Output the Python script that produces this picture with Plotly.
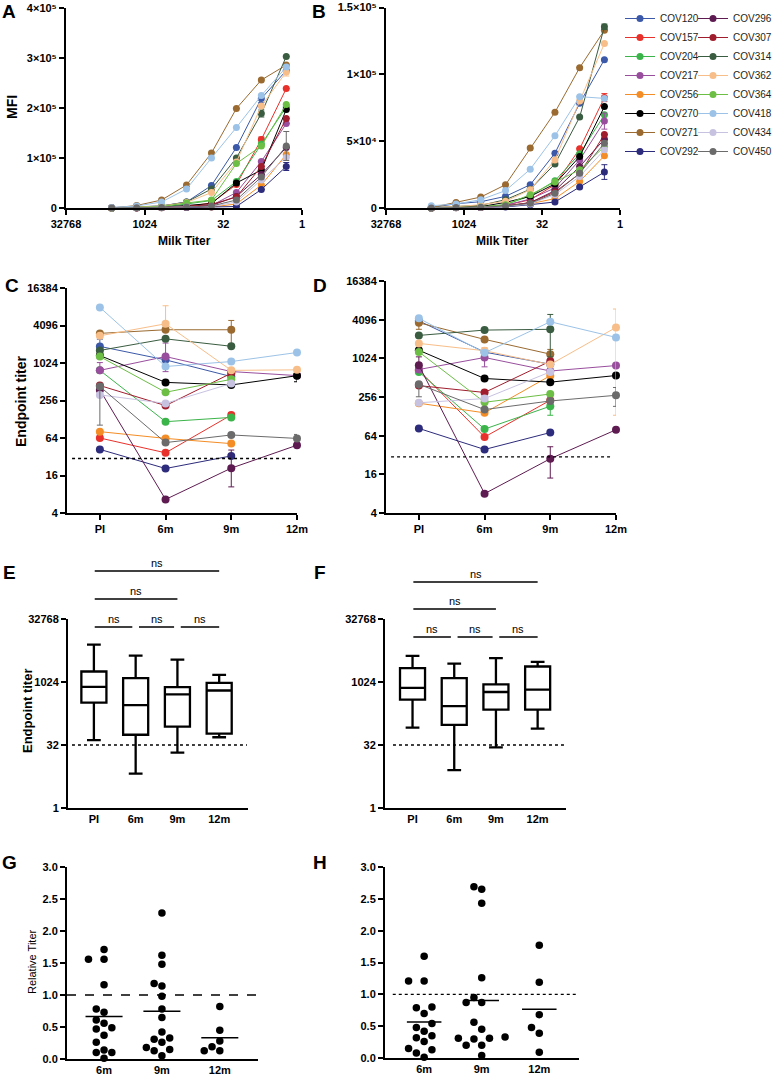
import numpy as np
import plotly.graph_objects as go

W, H = 775, 1079
FONT = "Liberation Sans, Arial, Helvetica, DejaVu Sans, sans-serif"

# ---------------- data ----------------
donors = ["COV120", "COV157", "COV204", "COV217", "COV256", "COV270", "COV271", "COV292",
          "COV296", "COV307", "COV314", "COV362", "COV364", "COV418", "COV434", "COV450"]
colors = ["#3B59A8", "#E8312B", "#3BB44A", "#984E9D", "#F48D25", "#000000", "#9A6A30", "#2D2B7B",
          "#5E1B51", "#9F1D2D", "#3A5C40", "#F8BE89", "#6CBE45", "#9CC3E7", "#C8C2E1", "#6B6B6B"]

dilutions = [4374, 1458, 486, 162, 54, 18, 6, 2]

mfi_A = {
    "COV120": [1000, 3000, 4000, 12000, 45000, 121000, 219000, 275000],
    "COV157": [0, 500, 1000, 3000, 10000, 47000, 137000, 239000],
    "COV204": [0, 1000, 2000, 8000, 15000, 53000, 128000, 202000],
    "COV217": [0, 500, 1000, 2000, 5000, 31000, 93000, 169000],
    "COV256": [0, 0, 500, 1000, 2000, 8000, 46000, 107000],
    "COV270": [0, 1000, 2000, 5000, 9000, 50000, 76000, 197000],
    "COV271": [0, 5000, 16000, 46000, 110000, 199000, 256000, 286000],
    "COV292": [0, 0, 500, 1000, 2000, 3000, 37000, 83000],
    "COV296": [0, 500, 1000, 2000, 5000, 23000, 67000, 121000],
    "COV307": [0, 500, 1000, 3000, 7000, 22000, 83000, 179000],
    "COV314": [0, 2000, 4000, 12000, 38000, 100000, 189000, 303000],
    "COV362": [0, 2000, 4000, 11000, 31000, 92000, 204000, 272000],
    "COV364": [0, 1000, 3000, 10000, 16000, 89000, 124000, 207000],
    "COV418": [1000, 4000, 12000, 38000, 100000, 161000, 225000, 282000],
    "COV434": [0, 500, 1000, 2000, 3000, 12000, 56000, 101000],
    "COV450": [0, 500, 1000, 2000, 4000, 16000, 62000, 124000],
}
err_A = {"COV450": {7: 29000}, "COV292": {7: 8000}, "COV314": {6: 7000},
         "COV120": {6: 8000}, "COV157": {6: 5000}, "COV362": {7: 8000}}

mfi_B = {
    "COV120": [300, 3200, 4700, 8700, 17400, 41000, 78400, 111000],
    "COV157": [0, 300, 800, 2000, 6200, 17400, 44300, 82600],
    "COV204": [0, 300, 800, 2500, 9000, 20400, 40500, 69700],
    "COV217": [0, 300, 600, 2000, 6700, 15000, 36000, 65000],
    "COV256": [0, 200, 500, 1200, 3200, 7000, 19900, 39000],
    "COV270": [0, 500, 1000, 4200, 8700, 18000, 38500, 75900],
    "COV271": [300, 4200, 8200, 17400, 44800, 71600, 105000, 133000],
    "COV292": [0, 100, 300, 800, 2500, 4500, 15700, 26900],
    "COV296": [0, 300, 600, 1500, 4000, 13000, 31000, 51500],
    "COV307": [0, 300, 600, 1500, 4000, 12000, 25600, 55000],
    "COV314": [300, 1000, 2000, 6200, 14000, 33000, 68000, 135600],
    "COV362": [300, 1000, 2500, 5000, 13700, 36000, 80000, 123000],
    "COV364": [0, 300, 800, 2500, 10000, 19400, 28600, 46000],
    "COV418": [1700, 3000, 6200, 13000, 29000, 54000, 83300, 82000],
    "COV434": [0, 200, 500, 1200, 3000, 10000, 23600, 43500],
    "COV450": [0, 300, 600, 1500, 3500, 11000, 26000, 48500],
}
err_B = {"COV292": {7: 5500}, "COV217": {7: 6000}, "COV364": {7: 4000},
         "COV157": {7: 3000}, "COV314": {7: 2000}}

timepoints = ["PI", "6m", "9m", "12m"]

titer_C = {
    "COV120": [1890, 1150, 620, None],
    "COV157": [64, 37, 150, None],
    "COV204": [780, 117, 137, None],
    "COV217": [780, 1300, 746, 643],
    "COV256": [81, 63, 52, None],
    "COV270": [1350, 500, 455, 640],
    "COV271": [3060, 3500, 3500, None],
    "COV292": [42, 20.7, 33, None],
    "COV296": [378, 6.6, 21, 49],
    "COV307": [445, 212, 700, None],
    "COV314": [1630, 2500, 1900, None],
    "COV362": [2800, 4360, 780, 795],
    "COV364": [1300, 347, 560, None],
    "COV418": [8000, 900, 1080, 1510],
    "COV434": [315, 230, 480, None],
    "COV450": [430, 54, 71.6, 63],
}
# (upper, lower) error bars
err_C = {("COV450", 0): (40, 327), ("COV362", 1): (4140, 0), ("COV271", 2): (1440, 1450),
         ("COV296", 2): (20, 10.5), ("COV217", 1): (840, 556), ("COV120", 0): (580, 0),
         ("COV217", 0): (260, 0), ("COV270", 3): (0, 128), ("COV450", 3): (10, 0),
         ("COV157", 2): (13, 0)}

titer_D = {
    "COV120": [3930, 1280, 830, None],
    "COV157": [670, 61, 228, None],
    "COV204": [630, 81, 184, None],
    "COV217": [686, 1055, 650, 790],
    "COV256": [205, 145, 550, None],
    "COV270": [1370, 497, 436, 553],
    "COV271": [3660, 2020, 1190, None],
    "COV292": [83, 39, 71.5, None],
    "COV296": [800, 8, 28, 79],
    "COV307": [385, 301, 925, None],
    "COV314": [2330, 2820, 2900, None],
    "COV362": [1750, 1345, 820, 3100],
    "COV364": [1290, 212, 285, None],
    "COV418": [4300, 1250, 3800, 2170],
    "COV434": [208, 242, 630, None],
    "COV450": [404, 163, 222, 272],
}
err_D = {("COV271", 0): (880, 760), ("COV296", 0): (280, 0), ("COV450", 0): (0, 146),
         ("COV217", 1): (0, 300), ("COV362", 1): (165, 0), ("COV314", 2): (2040, 1820),
         ("COV271", 2): (220, 173), ("COV296", 2): (15, 14), ("COV204", 2): (0, 51),
         ("COV362", 3): (2900, 2967), ("COV450", 3): (88, 89)}

rel_categories = ["6m", "9m", "12m"]
rel_G = [
    [1.71, 1.56, 1.56, 1.16, 0.78, 0.73, 0.61, 0.49, 0.47, 0.56, 0.37, 0.26, 0.14, 0.10, 0.10, 0.01],
    [2.28, 1.62, 1.48, 1.18, 1.14, 0.98, 0.78, 0.65, 0.42, 0.31, 0.33, 0.26, 0.18, 0.15, 0.13, 0.05],
    [0.82, 0.45, 0.28, 0.13, 0.19, 0.13],
]
rel_H = [
    [1.60, 1.21, 1.21, 0.80, 0.79, 0.70, 0.54, 0.48, 0.42, 0.32, 0.35, 0.26, 0.15, 0.13, 0.08, 0.01],
    [2.69, 2.65, 2.43, 1.26, 0.95, 0.87, 0.87, 0.56, 0.45, 0.30, 0.31, 0.33, 0.31, 0.20, 0.20, 0.04],
    [1.77, 1.19, 0.68, 0.48, 0.39, 0.09],
]

comparisons = [(0, 1), (1, 2), (2, 3), (0, 2), (0, 3)]
comparison_level = [0, 0, 0, 1, 2]
comparison_label = "ns"

# ---------------- helpers ----------------
def px(x):
    return x / W


def py(y):
    return 1 - y / H


def dom_x(a, b):
    return [a / W, b / W]


def dom_y(top, bottom):
    return [1 - bottom / H, 1 - top / H]


def axstyle(**kw):
    base = dict(showline=True, linewidth=2, linecolor="black", ticks="outside", ticklen=5,
                tickwidth=1.5, tickcolor="black", showgrid=False, zeroline=False, automargin=False,
                ticklabeloverflow="allow",
                tickfont=dict(family=FONT, size=11, color="black", weight="bold"))
    base.update(kw)
    return base


def swarm(vals, ypx_per_unit, step_px=7.8, dmin=8.2):
    vals = np.asarray(vals, float)
    order = np.argsort(vals)
    placed = []
    offs = np.zeros(len(vals))
    cands = [0]
    for k in range(1, 10):
        cands += [-k, k]
    for i in order:
        yp = vals[i] * ypx_per_unit
        for k in cands:
            xp = k * step_px
            if all((xp - a) ** 2 + (yp - b) ** 2 >= dmin ** 2 for a, b in placed):
                break
        placed.append((xp, yp))
        offs[i] = xp
    return offs


fig = go.Figure()

# ---------------- A & B ----------------
for panel, data, err, xa, ya in [("A", mfi_A, err_A, "x", "y"), ("B", mfi_B, err_B, "x2", "y2")]:
    for i, d in enumerate(donors):
        e = [err.get(d, {}).get(k, None) for k in range(len(dilutions))]
        fig.add_trace(go.Scatter(
            x=dilutions, y=data[d], xaxis=xa, yaxis=ya, mode="lines+markers", name=d,
            line=dict(color=colors[i], width=1), marker=dict(color=colors[i], size=7),
            error_y=dict(type="data", array=e, visible=True, color=colors[i], thickness=1, width=3),
            cliponaxis=False, showlegend=(panel == "A"),
            legend="legend" if i < 8 else "legend2", hoverinfo="skip"))

# ---------------- C & D ----------------
xcat = list(range(len(timepoints)))
for data, err, xa, ya in [(titer_C, err_C, "x3", "y3"), (titer_D, err_D, "x4", "y4")]:
    for i, d in enumerate(donors):
        plus = [err.get((d, k), (None, None))[0] for k in xcat]
        minus = [err.get((d, k), (None, None))[1] for k in xcat]
        fig.add_trace(go.Scatter(
            x=xcat, y=data[d], xaxis=xa, yaxis=ya, mode="lines+markers", name=d,
            line=dict(color=colors[i], width=1), marker=dict(color=colors[i], size=8),
            error_y=dict(type="data", symmetric=False, array=plus, arrayminus=minus, visible=True,
                         color=colors[i], thickness=1, width=3),
            cliponaxis=False, showlegend=False, hoverinfo="skip"))

# ---------------- E & F (box plots of C & D) ----------------
def box_stats(data):
    out = {"q1": [], "median": [], "q3": [], "lo": [], "hi": []}
    for k in xcat:
        vals = np.array([data[d][k] for d in donors if data[d][k] is not None], float)
        out["q1"].append(float(np.percentile(vals, 25, method="weibull")))
        out["median"].append(float(np.median(vals)))
        out["q3"].append(float(np.percentile(vals, 75, method="weibull")))
        out["lo"].append(float(vals.min()))
        out["hi"].append(float(vals.max()))
    return out


for data, xa, ya in [(titer_C, "x5", "y5"), (titer_D, "x6", "y6")]:
    s = box_stats(data)
    fig.add_trace(go.Box(
        x=xcat, q1=s["q1"], median=s["median"], q3=s["q3"], lowerfence=s["lo"], upperfence=s["hi"],
        xaxis=xa, yaxis=ya, width=0.6, whiskerwidth=0.55, fillcolor="rgba(0,0,0,0)",
        line=dict(color="black", width=2.3), boxpoints=False, showlegend=False, hoverinfo="skip"))

# ---------------- G & H ----------------
for data, xa, ya, ypx, xpx, half in [(rel_G, "x7", "y7", 64.0, 58.0, 0.32),
                                     (rel_H, "x8", "y8", 63.9, 57.7, 0.30)]:
    for k, vals in enumerate(data):
        offs = swarm(vals, ypx) / xpx
        fig.add_trace(go.Scatter(
            x=k + offs, y=vals, xaxis=xa, yaxis=ya, mode="markers",
            marker=dict(color="black", size=7.5), cliponaxis=False, showlegend=False, hoverinfo="skip"))
        m = float(np.mean(vals))
        fig.add_trace(go.Scatter(
            x=[k - half, k + half], y=[m, m], xaxis=xa, yaxis=ya, mode="lines",
            line=dict(color="black", width=1.5), showlegend=False, hoverinfo="skip"))

# ---------------- layout ----------------
log_ticks_dil = [32768, 1024, 32, 1]
legend_common = dict(xanchor="left", yanchor="top", xref="container", yref="container",
                     bgcolor="rgba(0,0,0,0)", font=dict(family=FONT, size=10, color="#231F20"),
                     itemwidth=30, tracegroupgap=0)
layout = dict(
    width=W, height=H, margin=dict(l=0, r=0, t=0, b=0, autoexpand=False),
    paper_bgcolor="white", plot_bgcolor="white",
    font=dict(family=FONT, color="black"),
    showlegend=True,
    legend=dict(x=px(620), y=py(4), **legend_common),
    legend2=dict(x=px(693), y=py(4), **legend_common),
)

# A
layout["xaxis"] = axstyle(domain=dom_x(66, 302), anchor="y", type="log",
                          range=[np.log10(32768), 0], tickvals=log_ticks_dil,
                          ticktext=[str(v) for v in log_ticks_dil])
layout["yaxis"] = axstyle(domain=dom_y(8, 208), anchor="x", range=[0, 4.0001e5],
                          tickvals=[0, 1e5, 2e5, 3e5, 4e5],
                          ticktext=["0", "1×10⁵", "2×10⁵", "3×10⁵", "4×10⁵"])
# B
layout["xaxis2"] = axstyle(domain=dom_x(386, 620), anchor="y2", type="log",
                           range=[np.log10(32768), 0], tickvals=log_ticks_dil,
                           ticktext=[str(v) for v in log_ticks_dil])
layout["yaxis2"] = axstyle(domain=dom_y(7.5, 208), anchor="x2", range=[0, 1.5001e5],
                           tickvals=[0, 5e4, 1e5, 1.5e5],
                           ticktext=["0", "5×10⁴", "1×10⁵", "1.5×10⁵"])
# C, D
tit_ticks = [4, 16, 64, 256, 1024, 4096, 16384]
for n, (xd, yd) in {3: ((67, 297), (288, 513)), 4: ((386, 616), (281, 513))}.items():
    layout[f"xaxis{n}"] = axstyle(domain=dom_x(*xd), anchor=f"y{n}", range=[-0.5, 3.0001],
                                  tickvals=xcat, ticktext=timepoints)
    layout[f"yaxis{n}"] = axstyle(domain=dom_y(*yd), anchor=f"x{n}", type="log",
                                  range=[np.log10(4) - 1e-4, np.log10(16384) + 1e-4],
                                  tickvals=tit_ticks, ticktext=[str(v) for v in tit_ticks])
# E, F
box_ticks = [1, 32, 1024, 32768]
ef_axes = {5: ((68, 248), (619, 808), [-0.62, 3.69]),
           6: ((385, 566), (619, 808), [-0.66, 3.68])}
for n, (xd, yd, xr) in ef_axes.items():
    layout[f"xaxis{n}"] = axstyle(domain=dom_x(*xd), anchor=f"y{n}", range=xr,
                                  tickvals=xcat, ticktext=timepoints, ticks="")
    layout[f"yaxis{n}"] = axstyle(domain=dom_y(*yd), anchor=f"x{n}", type="log",
                                  range=[-1e-4, np.log10(32768) + 1e-4], tickvals=box_ticks,
                                  ticktext=[str(v) for v in box_ticks])
# G, H
for n, (xd, yd, xr) in {7: ((67, 258), (867, 1059), [-0.64, 2.66]),
                        8: ((385, 579), (867, 1058), [-0.68, 2.69])}.items():
    layout[f"xaxis{n}"] = axstyle(domain=dom_x(*xd), anchor=f"y{n}", range=xr,
                                  tickvals=list(range(len(rel_categories))), ticktext=rel_categories,
                                  ticks="")
    layout[f"yaxis{n}"] = axstyle(domain=dom_y(*yd), anchor=f"x{n}", range=[0, 3.0001],
                                  tickvals=[0, 0.5, 1.0, 1.5, 2.0, 2.5, 3.0], tickformat=".1f")

# ---------------- reference lines ----------------
shapes = []
for xa, ya, x0, x1, yv, dash in [("x3", "y3", 0.022, 0.978, 30, "dot"),
                                 ("x4", "y4", 0.022, 0.978, 30, "dot"),
                                 ("x5", "y5", 0.022, 0.994, 32, "dot"),
                                 ("x6", "y6", 0.044, 0.994, 32, "dot"),
                                 ("x7", "y7", 0.0, 1.0, 1.0, "dash"),
                                 ("x8", "y8", 0.04, 0.985, 1.0, "dot")]:
    shapes.append(dict(type="line", xref=f"{xa} domain", yref=ya, x0=x0, x1=x1, y0=yv, y1=yv,
                       line=dict(color="black", width=1.3, dash=dash)))

annotations = []


def ann(text, x, y, size=11, bold=False, angle=0, xanchor="center", yanchor="middle"):
    annotations.append(dict(text=text, x=x, y=y, xref="paper", yref="paper", showarrow=False,
                            textangle=angle, xanchor=xanchor, yanchor=yanchor,
                            font=dict(family=FONT, size=size, color="black",
                                      weight="bold" if bold else "normal")))


# significance brackets for E and F (category position -> paper via the axis domain)
for n, rows in [(5, [627, 599, 571]), (6, [637, 609, 582])]:
    (xa0, xa1), _, (r0, r1) = ef_axes[n]

    def cat2paper(c):
        return px(xa0 + (c - r0) / (r1 - r0) * (xa1 - xa0))

    for (a, b), lev in zip(comparisons, comparison_level):
        x0 = a + (0.08 if (lev == 0 and a > 0) else 0.02)
        x1 = b - (0.08 if (lev == 0 and b < 3) else 0.0)
        shapes.append(dict(type="line", xref="paper", yref="paper",
                           x0=cat2paper(x0), x1=cat2paper(x1),
                           y0=py(rows[lev]), y1=py(rows[lev]),
                           line=dict(color="black", width=1.5)))
        ann(comparison_label, cat2paper((x0 + x1) / 2), py(rows[lev] - 8), size=11)

# panel letters
for letter, x, y in [("A", 9, 12), ("B", 319, 12), ("C", 12, 285), ("D", 320, 285),
                     ("E", 9, 572), ("F", 320, 572), ("G", 9, 862), ("H", 320, 862)]:
    ann(letter, px(x), py(y), size=19, bold=True)

# axis titles
ann("MFI", px(12), py(107), size=14, bold=True, angle=-90)
ann("Milk Titer", px(184), py(241), size=12, bold=True)
ann("Milk Titer", px(502), py(241), size=12, bold=True)
ann("Endpoint titer", px(21), py(401), size=14, bold=True, angle=-90)
ann("Endpoint titer", px(27), py(710), size=13, bold=True, angle=-90)
ann("Relative Titer", px(32), py(962), size=11, angle=-90)

layout["shapes"] = shapes
layout["annotations"] = annotations
fig.update_layout(**layout)

fig.write_html(
    "out.html",
    config={"displayModeBar": False},
    post_script="document.body.style.margin='0';document.body.style.overflow='hidden';",
)
